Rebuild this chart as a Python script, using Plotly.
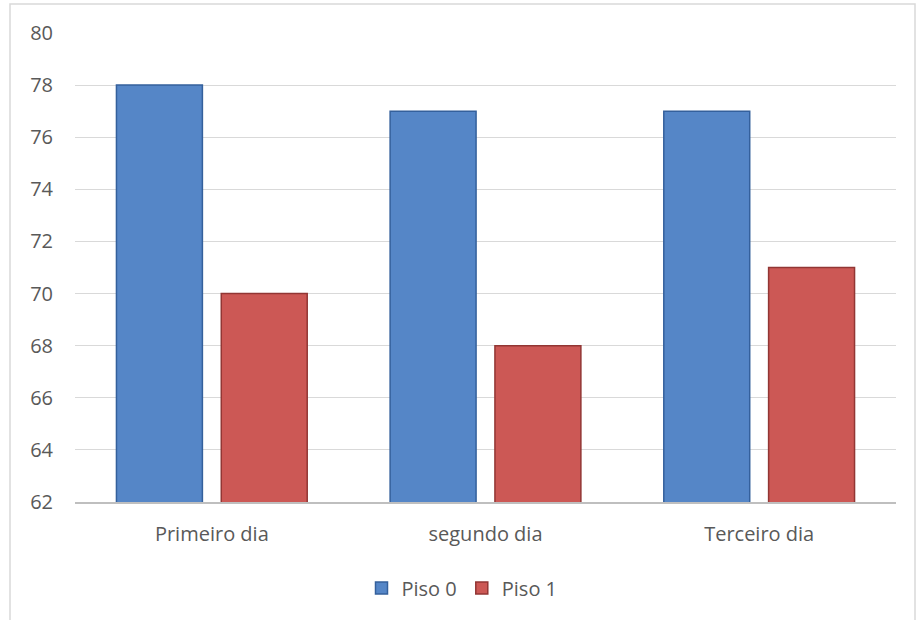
import plotly.graph_objects as go

categories = ["Primeiro dia", "segundo dia", "Terceiro dia"]
piso0 = [78, 77, 77]
piso1 = [70, 68, 71]
y_ticks = [62, 64, 66, 68, 70, 72, 74, 76, 78, 80]

W, H = 917, 620
L, R, T, B = 75, 21, 33, 118
pw, ph = W - L - R, H - T - B
y_bottom_px = T + ph  # pixel row of the plot-area bottom


def px_to_paper_x(px):
    return (px - L) / pw


def px_to_paper_y(py):
    return (y_bottom_px - py) / ph


fig = go.Figure()
fig.add_trace(go.Bar(
    name="Piso 0", x=categories, y=piso0, base=0,
    marker=dict(color="#5586c7", line=dict(color="#34609c", width=1.5)),
))
fig.add_trace(go.Bar(
    name="Piso 1", x=categories, y=piso1, base=0,
    marker=dict(color="#cc5855", line=dict(color="#923634", width=1.5)),
))

# chart frame, running past the bottom of the page
fig.add_shape(type="rect", xref="paper", yref="paper",
              x0=px_to_paper_x(10), x1=px_to_paper_x(915),
              y0=px_to_paper_y(660), y1=px_to_paper_y(4),
              line=dict(color="#d9d9d9", width=1.5), fillcolor="rgba(0,0,0,0)", layer="below")

fig.update_layout(
    width=W, height=H,
    margin=dict(l=L, r=R, t=T, b=B),
    paper_bgcolor="white", plot_bgcolor="white",
    barmode="group", bargap=0.234, bargroupgap=0.18,
    font=dict(family="Open Sans, Noto Sans, sans-serif", size=20, color="#595959"),
    xaxis=dict(showline=True, linecolor="#bfbfbf", linewidth=1.5, ticks="",
               tickfont=dict(size=20, color="#595959"), fixedrange=True,
               ticklabelstandoff=13),
    yaxis=dict(range=[62, 80], tickvals=y_ticks, showgrid=True, gridcolor="#d9d9d9",
               gridwidth=1.2, zeroline=False, showline=False, ticks="",
               tickfont=dict(size=20, color="#595959"), ticklabelstandoff=21),
    legend=dict(orientation="h", x=px_to_paper_x(462), xanchor="center",
                y=px_to_paper_y(588), yanchor="middle",
                font=dict(size=20, color="#595959"), itemwidth=30, traceorder="normal"),
    showlegend=True,
)

fig.write_html("out.html")
